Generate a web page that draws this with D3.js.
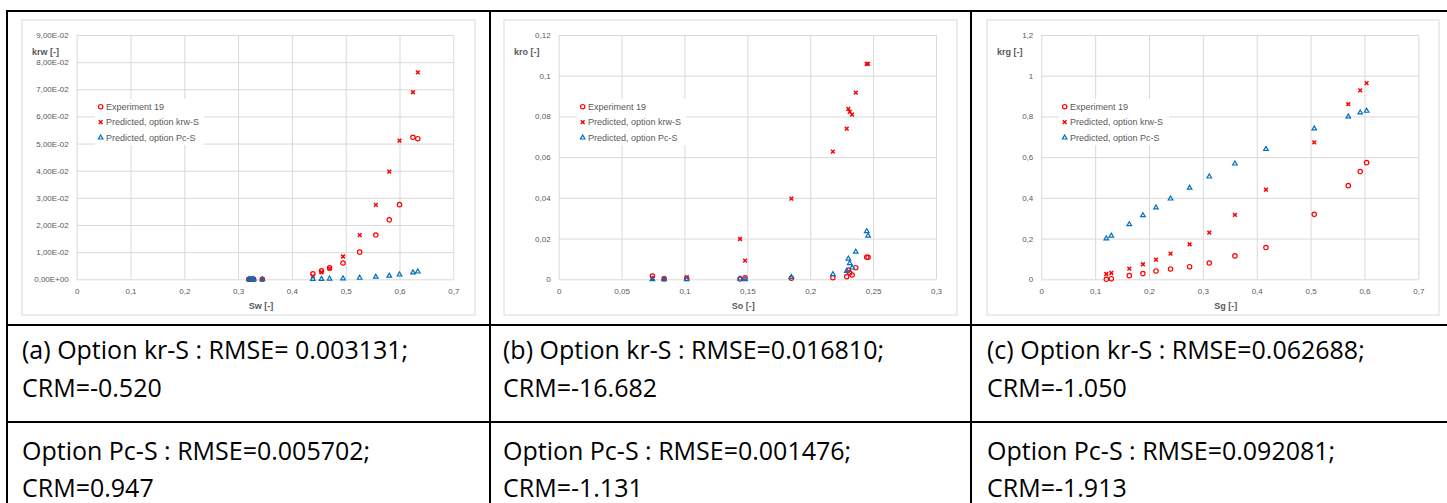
<!DOCTYPE html>
<html>
<head>
<meta charset="utf-8">
<script src="https://cdn.jsdelivr.net/npm/d3@7"></script>
<style>
  html, body { margin: 0; padding: 0; background: #fff; }
  svg { display: block; }
</style>
</head>
<body>
<div id="chart"></div>
<script>
// (a) water
const sw = [0.320, 0.323, 0.326, 0.329, 0.345, 0.439, 0.455, 0.470, 0.495, 0.526, 0.556, 0.581, 0.600, 0.625, 0.634];
const krwExp = [0, 0, 0, 0, 0, 0.0020, 0.0031, 0.0042, 0.0060, 0.0100, 0.0163, 0.0219, 0.0275, 0.0523, 0.0518];
const krwPredKr = [0, 0, 0, 0, 0, 0.0012, 0.0026, 0.0039, 0.0084, 0.0163, 0.0274, 0.0397, 0.0511, 0.0689, 0.0762];
const krwPredPc = [0, 0, 0, 0, 0, 0.0001, 0.0001, 0.0002, 0.0003, 0.0005, 0.0009, 0.0013, 0.0017, 0.0025, 0.0028];

// (b) oil
const so = [0.0745, 0.0838, 0.1018, 0.1442, 0.1482, 0.185, 0.218, 0.229, 0.2303, 0.2314, 0.2333, 0.2362, 0.2449, 0.2460];
const kroExp = [0.0016, 0.0002, 0.0004, 0.0002, 0.0008, 0.0005, 0.0008, 0.0013, 0.0045, 0.0032, 0.0021, 0.0057, 0.0108, 0.0108];
const kroPredKr = [0.0004, 0.0003, 0.0011, 0.0198, 0.0092, 0.0396, 0.0627, 0.0740, 0.0837, 0.0822, 0.0809, 0.0917, 0.1058, 0.1058];
const kroPredPc = [0, 0, 0, 0.0003, 0, 0.0011, 0.0025, 0.0040, 0.0101, 0.0079, 0.0057, 0.0135, 0.0236, 0.0214];

// (c) gas
const sg = [0.1207, 0.130, 0.1634, 0.1887, 0.2129, 0.240, 0.2754, 0.3119, 0.3595, 0.4171, 0.5068, 0.570, 0.5922, 0.604];
const krgExp = [0.000, 0.003, 0.018, 0.028, 0.041, 0.051, 0.062, 0.080, 0.115, 0.156, 0.319, 0.460, 0.529, 0.573];
const krgPredKr = [0.026, 0.031, 0.052, 0.074, 0.097, 0.126, 0.172, 0.229, 0.316, 0.440, 0.673, 0.860, 0.928, 0.964];
const krgPredPc = [0.200, 0.214, 0.270, 0.314, 0.352, 0.396, 0.449, 0.504, 0.568, 0.640, 0.740, 0.799, 0.819, 0.827];

const seriesNames = ["Experiment 19", "Predicted, option krw-S", "Predicted, option Pc-S"];
const xTitles = ["Sw [-]", "So [-]", "Sg [-]"];
const yTitles = ["krw [-]", "kro [-]", "krg [-]"];
const xMaxes = [0.7, 0.3, 0.7];
const xSteps = [0.1, 0.05, 0.1];
const yMaxes = [0.09, 0.12, 1.2];
const ySteps = [0.01, 0.02, 0.2];

const captionsKr = ["(a) Option kr-S : RMSE= 0.003131;", "(b) Option kr-S : RMSE=0.016810;", "(c) Option kr-S : RMSE=0.062688;"];
const captionsKrCrm = ["CRM=-0.520", "CRM=-16.682", "CRM=-1.050"];
const captionsPc = ["Option Pc-S : RMSE=0.005702;", "Option Pc-S : RMSE=0.001476;", "Option Pc-S : RMSE=0.092081;"];
const captionsPcCrm = ["CRM=0.947", "CRM=-1.131", "CRM=-1.913"];

const W = 1447, H = 503;
const gridColor = "#d9d9d9";
const labelColor = "#595959";
const red = "#ff0000", blue = "#0070c0";

// decimal comma formatting like the Excel source
const dec = v => String(+v.toFixed(4)).replace(".", ",");
const sci = v => {
    if (v === 0) return "0,00E+00";
    const [m, e] = d3.format(".2e")(v).split("e");
    const n = +e;
    return m.replace(".", ",") + "E" + (n < 0 ? "-" : "+") + String(Math.abs(n)).padStart(2, "0");
};

const panels = [
    { x: sw, series: [krwExp, krwPredKr, krwPredPc], box: [22, 20, 475, 315], plot: [76.7, 453.3], yTitleX: 32, legend: [95, 99, 109, 46], yFmt: sci },
    { x: so, series: [kroExp, kroPredKr, kroPredPc], box: [504, 20, 957, 315], plot: [558.7, 936], yTitleX: 514, legend: [577, 99, 109, 46], yFmt: dec },
    { x: sg, series: [krgExp, krgPredKr, krgPredPc], box: [987, 20, 1439, 315], plot: [1041.3, 1418.3], yTitleX: 997, legend: [1059, 99, 110, 46], yFmt: dec }
];

// small "x" marker
const symbolTimes = {
    draw(ctx, size) {
        const r = Math.sqrt(size) / 2;
        ctx.moveTo(-r, -r); ctx.lineTo(r, r);
        ctx.moveTo(r, -r); ctx.lineTo(-r, r);
    }
};

const markers = [
    { path: d3.symbol(d3.symbolCircle, 15)(), stroke: red, width: 1.2 },
    { path: d3.symbol(symbolTimes, 14)(), stroke: red, width: 1.5 },
    { path: d3.symbol(d3.symbolTriangle, 9)(), stroke: blue, width: 1.2 }
];

const svg = d3.select("#chart").append("svg")
    .attr("width", W)
    .attr("height", H)
    .style("font-family", "'Liberation Sans', Arial, sans-serif");

svg.append("rect").attr("width", W).attr("height", H).attr("fill", "#fff");

const yBottom = 279.3, yTop = 35;

panels.forEach((p, k) => {
    const g = svg.append("g");

    // chart area
    g.append("rect")
        .attr("x", p.box[0]).attr("y", p.box[1])
        .attr("width", p.box[2] - p.box[0]).attr("height", p.box[3] - p.box[1])
        .attr("fill", "#fff").attr("stroke", gridColor).attr("stroke-width", 1);

    const x = d3.scaleLinear().domain([0, xMaxes[k]]).range(p.plot);
    const y = d3.scaleLinear().domain([0, yMaxes[k]]).range([yBottom, yTop]);

    const xTicks = d3.range(0, Math.round(xMaxes[k] / xSteps[k]) + 1).map(i => +(i * xSteps[k]).toFixed(4));
    const yTicks = d3.range(0, Math.round(yMaxes[k] / ySteps[k]) + 1).map(i => +(i * ySteps[k]).toFixed(4));

    const styleAxis = a => {
        a.select(".domain").remove();
        a.selectAll("line").attr("stroke", gridColor).attr("stroke-width", 1);
        a.selectAll("text")
            .attr("fill", labelColor)
            .attr("font-size", 8)
            .attr("font-family", "'Liberation Sans', Arial, sans-serif");
    };

    // vertical gridlines + x labels
    g.append("g")
        .attr("transform", `translate(0,${yBottom})`)
        .call(d3.axisBottom(x).tickValues(xTicks).tickSize(-(yBottom - yTop)).tickPadding(9).tickFormat(dec))
        .call(styleAxis);

    // horizontal gridlines + y labels
    g.append("g")
        .attr("transform", `translate(${p.plot[0]},0)`)
        .call(d3.axisLeft(y).tickValues(yTicks).tickSize(-(p.plot[1] - p.plot[0])).tickPadding(8).tickFormat(p.yFmt))
        .call(styleAxis);

    // axis titles
    g.append("text")
        .attr("x", (p.plot[0] + p.plot[1]) / 2 - 4)
        .attr("y", 309)
        .attr("text-anchor", "middle")
        .attr("font-size", 9).attr("font-weight", "bold")
        .attr("fill", labelColor)
        .text(xTitles[k]);

    g.append("text")
        .attr("x", p.yTitleX)
        .attr("y", 55)
        .attr("font-size", 9).attr("font-weight", "bold")
        .attr("fill", labelColor)
        .text(yTitles[k]);

    // legend
    const lg = g.append("g").attr("transform", `translate(${p.legend[0]},${p.legend[1]})`);
    lg.append("rect").attr("width", p.legend[2]).attr("height", p.legend[3]).attr("fill", "#fff");
    seriesNames.forEach((name, i) => {
        const cy = 7.7 + i * 15.5;
        lg.append("path")
            .attr("transform", `translate(5.7,${cy})`)
            .attr("d", markers[i].path)
            .attr("fill", "none")
            .attr("stroke", markers[i].stroke)
            .attr("stroke-width", markers[i].width);
        lg.append("text")
            .attr("x", 11)
            .attr("y", cy)
            .attr("dy", "0.35em")
            .attr("font-size", 9)
            .attr("fill", labelColor)
            .text(name);
    });

    // points
    p.series.forEach((vals, i) => {
        g.append("g")
            .selectAll("path")
            .data(vals.map((v, j) => [p.x[j], v]))
            .join("path")
            .attr("transform", d => `translate(${x(d[0])},${y(d[1])})`)
            .attr("d", markers[i].path)
            .attr("fill", "none")
            .attr("stroke", markers[i].stroke)
            .attr("stroke-width", markers[i].width);
    });
});

// table grid
const cols = [7, 490, 971];
const rows = [11, 325, 422];
const tbl = svg.append("g").attr("stroke", "#000").attr("stroke-width", 2);
rows.forEach(r => tbl.append("line").attr("x1", cols[0] - 1).attr("x2", W).attr("y1", r).attr("y2", r));
cols.forEach(c => tbl.append("line").attr("x1", c).attr("x2", c).attr("y1", rows[0] - 1).attr("y2", H));

// captions
const capX = [22, 503, 987];
const capFont = "'Open Sans', 'Liberation Sans', sans-serif";
const capLines = [
    [captionsKr, 359],
    [captionsKrCrm, 397],
    [captionsPc, 460],
    [captionsPcCrm, 497]
];
capLines.forEach(([texts, yy]) => {
    texts.forEach((t, k) => {
        svg.append("text")
            .attr("x", capX[k])
            .attr("y", yy)
            .attr("font-family", capFont)
            .attr("font-size", 25)
            .attr("fill", "#000")
            .text(t);
    });
});
</script>
</body>
</html>
